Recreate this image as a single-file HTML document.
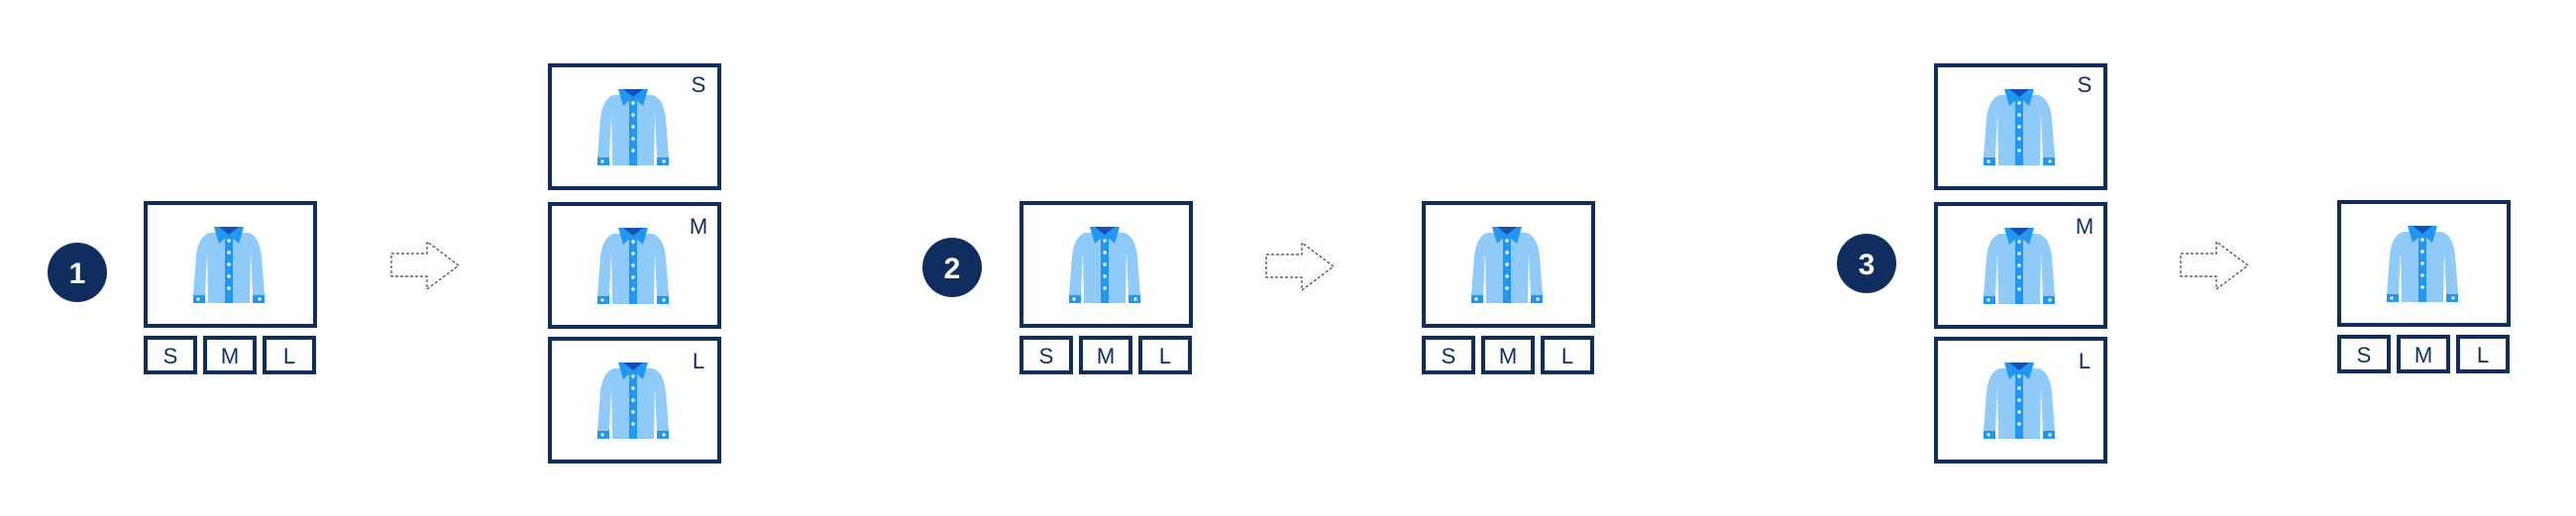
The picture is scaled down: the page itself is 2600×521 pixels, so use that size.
<!DOCTYPE html>
<html><head><meta charset="utf-8"><style>
html,body{margin:0;padding:0;background:#fff;}
svg{display:block;}
text{font-family:"Liberation Sans",sans-serif;}
</style></head><body>
<svg width="2600" height="521" viewBox="0 0 2600 521" xmlns="http://www.w3.org/2000/svg">
<defs>
<g id="shirt">
  <path d="M16,6 L56,6 Q67,10 69,30 L72,69 L60,69 L58,24 L57,77 L15,77 L14,24 L12,69 L0,69 L3,30 Q5,10 16,6 Z" fill="#90caf9"/>
  <rect x="0" y="69" width="12" height="8" fill="#2196f3"/>
  <rect x="60" y="69" width="12" height="8" fill="#2196f3"/>
  <circle cx="5" cy="73" r="1.6" fill="#fff"/>
  <circle cx="67" cy="73" r="1.6" fill="#fff"/>
  <rect x="32" y="8" width="8" height="69" fill="#2196f3"/>
  <polygon points="21,0 51,0 46,17 36,8 26,17" fill="#2196f3"/>
  <polygon points="26,0 46,0 36,8" fill="#1352b3"/>
  <circle cx="36" cy="14" r="1.7" fill="#fff"/>
  <circle cx="36" cy="26" r="1.7" fill="#fff"/>
  <circle cx="36" cy="38" r="1.7" fill="#fff"/>
  <circle cx="36" cy="50" r="1.7" fill="#fff"/>
  <circle cx="36" cy="62" r="1.7" fill="#fff"/>
</g>
<g id="box">
  <rect x="2" y="2" width="171" height="124" fill="#fff" stroke="#0f2d5e" stroke-width="4"/>
  <use href="#shirt" x="50" y="26"/>
</g>
<g id="sizes">
  <rect x="2" y="2" width="50" height="35" fill="none" stroke="#0f2d5e" stroke-width="4"/>
  <rect x="62" y="2" width="50" height="35" fill="none" stroke="#0f2d5e" stroke-width="4"/>
  <rect x="122" y="2" width="50" height="35" fill="none" stroke="#0f2d5e" stroke-width="4"/>
  <text x="27" y="28" font-size="22" fill="#0f2d5e" text-anchor="middle">S</text>
  <text x="87" y="28" font-size="22" fill="#0f2d5e" text-anchor="middle">M</text>
  <text x="147" y="28" font-size="22" fill="#0f2d5e" text-anchor="middle">L</text>
</g>
<g id="arrow">
  <polygon points="0,-12 36,-12 36,-24 68,0 36,24 36,11 0,11" fill="none" stroke="#444" stroke-width="1.2" stroke-dasharray="3,2"/>
</g>
</defs>

<!-- Section 1 -->
<circle cx="78" cy="275" r="30" fill="#0f2d5e"/>
<text x="78" y="286" font-size="30" font-weight="bold" fill="#fff" text-anchor="middle">1</text>
<use href="#box" x="145" y="203"/>
<use href="#sizes" x="145" y="339"/>
<use href="#arrow" x="395" y="268"/>
<use href="#box" x="553" y="64"/>
<use href="#box" x="553" y="204"/>
<use href="#box" x="553" y="340"/>
<text x="705" y="93" font-size="22" fill="#0f2d5e" text-anchor="middle">S</text>
<text x="705" y="236" font-size="22" fill="#0f2d5e" text-anchor="middle">M</text>
<text x="705" y="372" font-size="22" fill="#0f2d5e" text-anchor="middle">L</text>

<!-- Section 2 -->
<circle cx="961" cy="270" r="30" fill="#0f2d5e"/>
<text x="961" y="281" font-size="30" font-weight="bold" fill="#fff" text-anchor="middle">2</text>
<use href="#box" x="1029" y="203"/>
<use href="#sizes" x="1029" y="339"/>
<use href="#arrow" x="1278" y="269"/>
<use href="#box" x="1435" y="203"/>
<use href="#sizes" x="1435" y="339"/>

<!-- Section 3 -->
<circle cx="1884" cy="266" r="30" fill="#0f2d5e"/>
<text x="1884" y="277" font-size="30" font-weight="bold" fill="#fff" text-anchor="middle">3</text>
<use href="#box" x="1952" y="64"/>
<use href="#box" x="1952" y="204"/>
<use href="#box" x="1952" y="340"/>
<text x="2104" y="93" font-size="22" fill="#0f2d5e" text-anchor="middle">S</text>
<text x="2104" y="236" font-size="22" fill="#0f2d5e" text-anchor="middle">M</text>
<text x="2104" y="372" font-size="22" fill="#0f2d5e" text-anchor="middle">L</text>
<use href="#arrow" x="2201" y="268"/>
<use href="#box" x="2359" y="202"/>
<use href="#sizes" x="2359" y="338"/>
</svg>
</body></html>
